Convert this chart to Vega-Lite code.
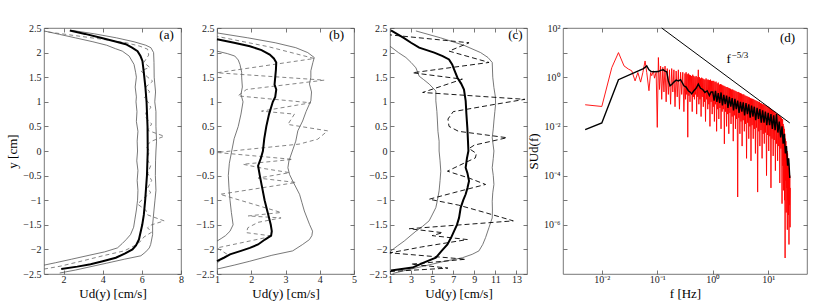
{
"$schema":"https://vega.github.io/schema/vega-lite/v6.json",
"background":"white",
"padding":{"left":6,"top":22,"right":5,"bottom":5},
"spacing":36,
"bounds":"flush",
"datasets":{
"a_env":[
{"s":"lo","y":2.44,"u":1.0},{"s":"lo","y":2.37,"u":1.8},{"s":"lo","y":2.30,"u":2.6},{"s":"lo","y":2.22,"u":3.5},{"s":"lo","y":2.15,"u":4.2},{"s":"lo","y":2.08,"u":4.65},{"s":"lo","y":2.03,"u":5.0},{"s":"lo","y":1.93,"u":5.35},{"s":"lo","y":1.76,"u":5.6},{"s":"lo","y":1.6,"u":5.68},{"s":"lo","y":1.5,"u":5.72},{"s":"lo","y":1.3,"u":5.66},{"s":"lo","y":1.1,"u":5.72},{"s":"lo","y":1.0,"u":5.7},{"s":"lo","y":0.8,"u":5.75},{"s":"lo","y":0.6,"u":5.72},{"s":"lo","y":0.4,"u":5.8},{"s":"lo","y":0.2,"u":5.76},{"s":"lo","y":0.0,"u":5.78},{"s":"lo","y":-0.2,"u":5.74},{"s":"lo","y":-0.4,"u":5.8},{"s":"lo","y":-0.6,"u":5.76},{"s":"lo","y":-0.8,"u":5.8},{"s":"lo","y":-1.0,"u":5.78},{"s":"lo","y":-1.2,"u":5.72},{"s":"lo","y":-1.4,"u":5.64},{"s":"lo","y":-1.55,"u":5.58},{"s":"lo","y":-1.7,"u":5.42},{"s":"lo","y":-1.8,"u":5.2},{"s":"lo","y":-1.88,"u":5.0},{"s":"lo","y":-1.97,"u":4.75},{"s":"lo","y":-2.05,"u":4.1},{"s":"lo","y":-2.12,"u":3.3},{"s":"lo","y":-2.2,"u":2.4},{"s":"lo","y":-2.27,"u":1.6},{"s":"lo","y":-2.32,"u":1.0},
{"s":"hi","y":2.45,"u":2.45},{"s":"hi","y":2.38,"u":3.6},{"s":"hi","y":2.30,"u":4.7},{"s":"hi","y":2.22,"u":5.6},{"s":"hi","y":2.15,"u":6.2},{"s":"hi","y":2.10,"u":6.46},{"s":"hi","y":2.0,"u":6.6},{"s":"hi","y":1.8,"u":6.62},{"s":"hi","y":1.5,"u":6.63},{"s":"hi","y":1.2,"u":6.7},{"s":"hi","y":1.0,"u":6.66},{"s":"hi","y":0.8,"u":6.72},{"s":"hi","y":0.5,"u":6.72},{"s":"hi","y":0.2,"u":6.75},{"s":"hi","y":0.0,"u":6.72},{"s":"hi","y":-0.2,"u":6.7},{"s":"hi","y":-0.5,"u":6.69},{"s":"hi","y":-0.8,"u":6.72},{"s":"hi","y":-1.0,"u":6.67},{"s":"hi","y":-1.2,"u":6.62},{"s":"hi","y":-1.5,"u":6.55},{"s":"hi","y":-1.7,"u":6.55},{"s":"hi","y":-1.9,"u":6.45},{"s":"hi","y":-1.97,"u":6.38},{"s":"hi","y":-2.05,"u":6.2},{"s":"hi","y":-2.13,"u":5.95},{"s":"hi","y":-2.2,"u":5.1},{"s":"hi","y":-2.28,"u":4.2},{"s":"hi","y":-2.35,"u":3.4},{"s":"hi","y":-2.42,"u":2.6},{"s":"hi","y":-2.48,"u":1.8}
],
"a_inst":[
{"y":2.43,"u":1.0},{"y":2.35,"u":2.5},{"y":2.27,"u":4.0},{"y":2.2,"u":5.2},{"y":2.13,"u":5.9},{"y":2.07,"u":6.29},{"y":1.95,"u":6.35},{"y":1.8,"u":6.1},{"y":1.7,"u":6.4},{"y":1.63,"u":5.95},{"y":1.5,"u":6.3},{"y":1.42,"u":6.55},{"y":1.3,"u":6.2},{"y":1.2,"u":6.4},{"y":1.08,"u":6.12},{"y":0.98,"u":6.35},{"y":0.88,"u":6.46},{"y":0.78,"u":6.2},{"y":0.68,"u":6.2},{"y":0.55,"u":6.5},{"y":0.42,"u":6.3},{"y":0.30,"u":7.14},{"y":0.2,"u":6.5},{"y":0.1,"u":6.2},{"y":0.0,"u":6.4},{"y":-0.15,"u":6.25},{"y":-0.3,"u":6.45},{"y":-0.45,"u":6.3},{"y":-0.6,"u":6.5},{"y":-0.75,"u":6.3},{"y":-0.85,"u":6.45},{"y":-0.95,"u":6.12},{"y":-1.08,"u":5.78},{"y":-1.2,"u":6.2},{"y":-1.3,"u":6.3},{"y":-1.42,"u":7.14},{"y":-1.5,"u":6.5},{"y":-1.56,"u":6.29},{"y":-1.65,"u":6.5},{"y":-1.75,"u":6.1},{"y":-1.83,"u":5.95},{"y":-1.93,"u":5.6},{"y":-2.03,"u":5.1},{"y":-2.13,"u":4.0},{"y":-2.23,"u":3.0},{"y":-2.34,"u":1.85},{"y":-2.4,"u":1.0}
],
"a_mean":[
{"y":2.45,"u":2.32},{"y":2.38,"u":3.1},{"y":2.30,"u":3.9},{"y":2.23,"u":4.6},{"y":2.17,"u":5.18},{"y":2.10,"u":5.5},{"y":2.03,"u":5.78},{"y":1.93,"u":5.93},{"y":1.83,"u":6.03},{"y":1.6,"u":6.1},{"y":1.3,"u":6.18},{"y":1.0,"u":6.24},{"y":0.5,"u":6.29},{"y":0.0,"u":6.3},{"y":-0.5,"u":6.26},{"y":-1.0,"u":6.17},{"y":-1.3,"u":6.1},{"y":-1.5,"u":6.02},{"y":-1.8,"u":5.85},{"y":-1.92,"u":5.7},{"y":-2.0,"u":5.52},{"y":-2.08,"u":5.15},{"y":-2.17,"u":4.67},{"y":-2.24,"u":4.0},{"y":-2.30,"u":3.38},{"y":-2.35,"u":2.7},{"y":-2.40,"u":1.88}
],
"b_env":[
{"s":"lo","y":2.03,"u":1.0},{"s":"lo","y":1.98,"u":1.3},{"s":"lo","y":1.93,"u":1.52},{"s":"lo","y":1.85,"u":1.62},{"s":"lo","y":1.76,"u":1.67},{"s":"lo","y":1.6,"u":1.72},{"s":"lo","y":1.5,"u":1.72},{"s":"lo","y":1.3,"u":1.74},{"s":"lo","y":1.15,"u":1.7},{"s":"lo","y":1.0,"u":1.76},{"s":"lo","y":0.75,"u":1.7},{"s":"lo","y":0.5,"u":1.62},{"s":"lo","y":0.25,"u":1.5},{"s":"lo","y":0.0,"u":1.43},{"s":"lo","y":-0.25,"u":1.36},{"s":"lo","y":-0.5,"u":1.33},{"s":"lo","y":-0.75,"u":1.35},{"s":"lo","y":-1.0,"u":1.38},{"s":"lo","y":-1.25,"u":1.42},{"s":"lo","y":-1.5,"u":1.47},{"s":"lo","y":-1.63,"u":1.38},{"s":"lo","y":-1.72,"u":1.25},{"s":"lo","y":-1.78,"u":1.12},{"s":"lo","y":-1.83,"u":1.0},
{"s":"hi","y":2.40,"u":1.0},{"s":"hi","y":2.3,"u":1.9},{"s":"hi","y":2.2,"u":2.7},{"s":"hi","y":2.1,"u":3.3},{"s":"hi","y":2.0,"u":3.65},{"s":"hi","y":1.90,"u":3.84},{"s":"hi","y":1.8,"u":3.8},{"s":"hi","y":1.63,"u":3.74},{"s":"hi","y":1.5,"u":3.74},{"s":"hi","y":1.36,"u":3.70},{"s":"hi","y":1.2,"u":3.76},{"s":"hi","y":1.02,"u":3.74},{"s":"hi","y":0.8,"u":3.6},{"s":"hi","y":0.61,"u":3.50},{"s":"hi","y":0.41,"u":3.36},{"s":"hi","y":0.2,"u":3.3},{"s":"hi","y":0.0,"u":3.2},{"s":"hi","y":-0.2,"u":3.1},{"s":"hi","y":-0.34,"u":3.07},{"s":"hi","y":-0.48,"u":3.12},{"s":"hi","y":-0.61,"u":3.21},{"s":"hi","y":-0.88,"u":3.41},{"s":"hi","y":-1.05,"u":3.48},{"s":"hi","y":-1.22,"u":3.55},{"s":"hi","y":-1.49,"u":3.70},{"s":"hi","y":-1.63,"u":3.79},{"s":"hi","y":-1.72,"u":3.77},{"s":"hi","y":-1.80,"u":3.70},{"s":"hi","y":-1.9,"u":3.5},{"s":"hi","y":-2.03,"u":3.21},{"s":"hi","y":-2.12,"u":2.6},{"s":"hi","y":-2.24,"u":1.96},{"s":"hi","y":-2.32,"u":1.5},{"s":"hi","y":-2.40,"u":1.0}
],
"b_inst":[
{"y":2.33,"u":1.0},{"y":2.12,"u":2.5},{"y":1.88,"u":3.84},{"y":1.59,"u":1.0},{"y":1.44,"u":4.13},{"y":1.25,"u":1.86},{"y":1.12,"u":1.61},{"y":0.98,"u":3.74},{"y":0.81,"u":2.30},{"y":0.75,"u":3.26},{"y":0.54,"u":3.07},{"y":0.41,"u":4.23},{"y":0.24,"u":3.94},{"y":0.14,"u":3.4},{"y":-0.03,"u":1.0},{"y":-0.17,"u":3.21},{"y":-0.27,"u":1.76},{"y":-0.36,"u":2.4},{"y":-0.44,"u":3.12},{"y":-0.55,"u":2.2},{"y":-0.64,"u":3.31},{"y":-0.88,"u":1.09},{"y":-1.12,"u":2.25},{"y":-1.25,"u":2.87},{"y":-1.32,"u":1.91},{"y":-1.36,"u":2.87},{"y":-1.45,"u":2.2},{"y":-1.56,"u":1.9},{"y":-1.66,"u":1.86},{"y":-1.73,"u":2.63},{"y":-1.97,"u":1.0},{"y":-2.1,"u":1.3},{"y":-2.28,"u":1.0}
],
"b_mean":[
{"y":2.27,"u":1.0},{"y":2.2,"u":1.5},{"y":2.13,"u":1.96},{"y":2.05,"u":2.3},{"y":1.96,"u":2.54},{"y":1.88,"u":2.66},{"y":1.80,"u":2.73},{"y":1.65,"u":2.72},{"y":1.5,"u":2.70},{"y":1.35,"u":2.68},{"y":1.25,"u":2.73},{"y":1.1,"u":2.70},{"y":1.0,"u":2.63},{"y":0.75,"u":2.52},{"y":0.5,"u":2.44},{"y":0.25,"u":2.38},{"y":0.0,"u":2.34},{"y":-0.15,"u":2.28},{"y":-0.3,"u":2.2},{"y":-0.5,"u":2.25},{"y":-0.75,"u":2.32},{"y":-1.0,"u":2.39},{"y":-1.25,"u":2.48},{"y":-1.5,"u":2.57},{"y":-1.63,"u":2.6},{"y":-1.72,"u":2.58},{"y":-1.8,"u":2.4},{"y":-1.9,"u":2.2},{"y":-1.97,"u":1.96},{"y":-2.03,"u":1.7},{"y":-2.1,"u":1.38},{"y":-2.17,"u":1.2},{"y":-2.24,"u":1.0}
],
"c_env":[
{"s":"lo","y":2.13,"u":1.0},{"s":"lo","y":2.0,"u":1.8},{"s":"lo","y":1.90,"u":2.51},{"s":"lo","y":1.80,"u":3.0},{"s":"lo","y":1.69,"u":3.46},{"s":"lo","y":1.52,"u":3.77},{"s":"lo","y":1.45,"u":4.2},{"s":"lo","y":1.36,"u":4.72},{"s":"lo","y":1.22,"u":5.35},{"s":"lo","y":1.02,"u":5.35},{"s":"lo","y":0.8,"u":5.45},{"s":"lo","y":0.61,"u":5.5},{"s":"lo","y":0.4,"u":5.55},{"s":"lo","y":0.20,"u":5.66},{"s":"lo","y":0.0,"u":5.66},{"s":"lo","y":-0.2,"u":5.75},{"s":"lo","y":-0.41,"u":5.82},{"s":"lo","y":-0.6,"u":5.75},{"s":"lo","y":-0.81,"u":5.66},{"s":"lo","y":-1.0,"u":5.5},{"s":"lo","y":-1.15,"u":5.35},{"s":"lo","y":-1.3,"u":5.0},{"s":"lo","y":-1.42,"u":4.71},{"s":"lo","y":-1.53,"u":4.1},{"s":"lo","y":-1.63,"u":3.46},{"s":"lo","y":-1.73,"u":2.9},{"s":"lo","y":-1.83,"u":2.35},{"s":"lo","y":-1.93,"u":1.7},{"s":"lo","y":-2.03,"u":1.09},{"s":"lo","y":-2.08,"u":1.0},
{"s":"hi","y":2.44,"u":3.46},{"s":"hi","y":2.3,"u":5.8},{"s":"hi","y":2.15,"u":8.0},{"s":"hi","y":2.0,"u":9.6},{"s":"hi","y":1.90,"u":10.3},{"s":"hi","y":1.80,"u":10.7},{"s":"hi","y":1.5,"u":10.75},{"s":"hi","y":1.29,"u":10.86},{"s":"hi","y":1.1,"u":11.0},{"s":"hi","y":0.95,"u":11.02},{"s":"hi","y":0.8,"u":10.95},{"s":"hi","y":0.61,"u":10.86},{"s":"hi","y":0.45,"u":10.8},{"s":"hi","y":0.27,"u":10.7},{"s":"hi","y":0.0,"u":10.86},{"s":"hi","y":-0.15,"u":10.8},{"s":"hi","y":-0.34,"u":10.7},{"s":"hi","y":-0.5,"u":10.8},{"s":"hi","y":-0.68,"u":10.86},{"s":"hi","y":-0.85,"u":10.75},{"s":"hi","y":-1.02,"u":10.7},{"s":"hi","y":-1.2,"u":10.72},{"s":"hi","y":-1.36,"u":10.7},{"s":"hi","y":-1.55,"u":10.4},{"s":"hi","y":-1.76,"u":10.07},{"s":"hi","y":-1.9,"u":9.8},{"s":"hi","y":-2.03,"u":9.44},{"s":"hi","y":-2.10,"u":8.8},{"s":"hi","y":-2.17,"u":7.87},{"s":"hi","y":-2.25,"u":6.0},{"s":"hi","y":-2.35,"u":4.0},{"s":"hi","y":-2.44,"u":2.2},{"s":"hi","y":-2.49,"u":1.25}
],
"c_inst":[
{"y":2.36,"u":1.0},{"y":2.20,"u":8.5},{"y":2.03,"u":6.6},{"y":1.80,"u":10.4},{"y":1.59,"u":3.14},{"y":1.46,"u":7.87},{"y":1.19,"u":4.1},{"y":1.05,"u":13.8},{"y":0.95,"u":11.0},{"y":0.8,"u":7.0},{"y":0.65,"u":6.5},{"y":0.5,"u":6.6},{"y":0.4,"u":7.5},{"y":0.27,"u":12.1},{"y":0.12,"u":9.0},{"y":0.05,"u":8.5},{"y":-0.05,"u":9.2},{"y":-0.14,"u":9.1},{"y":-0.25,"u":8.0},{"y":-0.41,"u":6.45},{"y":-0.55,"u":8.5},{"y":-0.68,"u":10.07},{"y":-0.85,"u":7.0},{"y":-0.98,"u":4.72},{"y":-1.1,"u":7.5},{"y":-1.25,"u":10.0},{"y":-1.42,"u":12.7},{"y":-1.58,"u":2.82},{"y":-1.66,"u":6.0},{"y":-1.72,"u":5.0},{"y":-1.80,"u":8.34},{"y":-1.95,"u":4.0},{"y":-2.07,"u":1.0},{"y":-2.20,"u":8.18},{"y":-2.30,"u":3.0},{"y":-2.38,"u":6.5},{"y":-2.45,"u":1.0}
],
"c_mean":[
{"y":2.45,"u":1.09},{"y":2.3,"u":2.3},{"y":2.2,"u":3.0},{"y":2.10,"u":3.77},{"y":2.0,"u":5.2},{"y":1.93,"u":6.0},{"y":1.86,"u":6.6},{"y":1.76,"u":6.9},{"y":1.66,"u":7.08},{"y":1.49,"u":7.4},{"y":1.37,"u":7.75},{"y":1.25,"u":8.02},{"y":1.02,"u":8.18},{"y":0.75,"u":8.25},{"y":0.47,"u":8.34},{"y":0.2,"u":8.4},{"y":0.0,"u":8.44},{"y":-0.15,"u":8.3},{"y":-0.34,"u":8.18},{"y":-0.45,"u":8.35},{"y":-0.61,"u":8.5},{"y":-0.75,"u":8.35},{"y":-0.88,"u":8.18},{"y":-1.0,"u":7.95},{"y":-1.15,"u":7.71},{"y":-1.36,"u":7.55},{"y":-1.5,"u":7.35},{"y":-1.63,"u":7.08},{"y":-1.76,"u":6.8},{"y":-1.90,"u":6.45},{"y":-2.03,"u":5.9},{"y":-2.17,"u":5.35},{"y":-2.27,"u":4.2},{"y":-2.37,"u":3.14},{"y":-2.43,"u":1.09}
],
"d_red":[
{"lf":-2.30,"lS":-1.12},{"lf":-2.00,"lS":-1.19},{"lf":-1.82,"lS":0.39},{"lf":-1.70,"lS":1.00},{"lf":-1.60,"lS":0.46},{"lf":-1.52,"lS":0.33},{"lf":-1.46,"lS":0.26},{"lf":-1.40,"lS":-0.15},{"lf":-1.35,"lS":0.19},{"lf":-1.30,"lS":-0.20},{"lf":-1.26,"lS":0.19},{"lf":-1.22,"lS":0.66},{"lf":-1.19,"lS":0.19},{"lf":-1.15,"lS":-0.55},{"lf":-1.12,"lS":0.19},{"lf":-1.10,"lS":0.06},{"lf":-1.07,"lS":0.26},{"lf":-1.05,"lS":-0.04},{"lf":-1.02,"lS":0.20},
{"lf":-1.00,"lS":-2.04},{"lf":-0.98,"lS":0.80},{"lf":-0.96,"lS":-0.5},{"lf":-0.94,"lS":0.45},{"lf":-0.92,"lS":-0.9},{"lf":-0.90,"lS":0.4},{"lf":-0.88,"lS":-0.6},{"lf":-0.86,"lS":0.45},{"lf":-0.84,"lS":-1.0},{"lf":-0.82,"lS":0.35},{"lf":-0.80,"lS":-0.7},{"lf":-0.78,"lS":0.3},{"lf":-0.76,"lS":-1.1},{"lf":-0.74,"lS":0.35},{"lf":-0.72,"lS":-0.6},{"lf":-0.70,"lS":0.3},{"lf":-0.68,"lS":-1.2},{"lf":-0.66,"lS":0.25},{"lf":-0.64,"lS":-0.8},{"lf":-0.62,"lS":0.3},{"lf":-0.60,"lS":-1.3},{"lf":-0.58,"lS":0.2},{"lf":-0.56,"lS":-0.7},{"lf":-0.54,"lS":0.2},{"lf":-0.52,"lS":-1.4},
{"lf":-0.50,"lS":0.15},{"lf":-0.49,"lS":-0.9},{"lf":-0.48,"lS":0.2},{"lf":-0.47,"lS":-0.7},{"lf":-0.46,"lS":0.12},{"lf":-0.45,"lS":-2.44},{"lf":-0.44,"lS":0.15},{"lf":-0.43,"lS":-0.75},{"lf":-0.42,"lS":0.1},{"lf":-0.41,"lS":-1.0},{"lf":-0.40,"lS":0.08},{"lf":-0.39,"lS":-0.6},{"lf":-0.38,"lS":0.05},{"lf":-0.37,"lS":-1.4},{"lf":-0.36,"lS":0.1},{"lf":-0.35,"lS":-0.8},{"lf":-0.34,"lS":0.05},{"lf":-0.33,"lS":-0.9},{"lf":-0.32,"lS":0.0},{"lf":-0.31,"lS":-0.7},{"lf":-0.30,"lS":0.05},{"lf":-0.29,"lS":-1.5},{"lf":-0.28,"lS":0.0},{"lf":-0.27,"lS":-0.8},{"lf":-0.26,"lS":0.3},{"lf":-0.25,"lS":-1.1},{"lf":-0.24,"lS":0.0},{"lf":-0.23,"lS":-0.9},{"lf":-0.22,"lS":-0.05},{"lf":-0.21,"lS":-1.6},{"lf":-0.20,"lS":-0.02},{"lf":-0.19,"lS":-0.8},{"lf":-0.18,"lS":-0.05},{"lf":-0.17,"lS":-1.2},{"lf":-0.16,"lS":-0.08},{"lf":-0.15,"lS":-1.0},{"lf":-0.14,"lS":-0.1},{"lf":-0.13,"lS":-1.8},{"lf":-0.12,"lS":-0.05},{"lf":-0.11,"lS":-0.9},{"lf":-0.10,"lS":-0.1},{"lf":-0.09,"lS":-1.3},{"lf":-0.08,"lS":-0.1},{"lf":-0.07,"lS":-1.1},{"lf":-0.06,"lS":-0.12},{"lf":-0.05,"lS":-2.0},{"lf":-0.04,"lS":-0.1},{"lf":-0.03,"lS":-1.0},{"lf":-0.02,"lS":-0.15},{"lf":-0.01,"lS":-1.5},
{"lf":0.00,"lS":-0.15},{"lf":0.01,"lS":-1.2},{"lf":0.02,"lS":-0.15},{"lf":0.03,"lS":-1.8},{"lf":0.04,"lS":-0.2},{"lf":0.05,"lS":-1.1},{"lf":0.06,"lS":-0.18},{"lf":0.07,"lS":-2.2},{"lf":0.08,"lS":-0.25},{"lf":0.09,"lS":-1.3},{"lf":0.10,"lS":-0.22},{"lf":0.11,"lS":-1.7},{"lf":0.12,"lS":-0.3},{"lf":0.13,"lS":-1.25},{"lf":0.14,"lS":-0.28},{"lf":0.15,"lS":-2.1},{"lf":0.16,"lS":-0.3},{"lf":0.17,"lS":-1.4},{"lf":0.18,"lS":-0.33},{"lf":0.19,"lS":-1.3},{"lf":0.20,"lS":-0.35},{"lf":0.21,"lS":-2.71},{"lf":0.22,"lS":-0.37},{"lf":0.23,"lS":-1.4},{"lf":0.24,"lS":-0.4},{"lf":0.25,"lS":-2.0},{"lf":0.26,"lS":-0.4},{"lf":0.27,"lS":-1.5},{"lf":0.28,"lS":-0.43},{"lf":0.29,"lS":-2.3},{"lf":0.30,"lS":-0.45},{"lf":0.31,"lS":-1.45},{"lf":0.32,"lS":-0.47},{"lf":0.33,"lS":-1.9},{"lf":0.34,"lS":-0.5},{"lf":0.35,"lS":-1.6},{"lf":0.36,"lS":-0.5},{"lf":0.37,"lS":-2.6},{"lf":0.38,"lS":-0.53},{"lf":0.39,"lS":-1.55},{"lf":0.40,"lS":-0.55},{"lf":0.41,"lS":-2.1},{"lf":0.42,"lS":-0.57},{"lf":0.43,"lS":-1.7},{"lf":0.44,"lS":-0.6},{"lf":0.45,"lS":-4.87},{"lf":0.46,"lS":-0.6},{"lf":0.47,"lS":-1.65},{"lf":0.48,"lS":-0.63},{"lf":0.49,"lS":-2.3},
{"lf":0.50,"lS":-0.65},{"lf":0.51,"lS":-1.8},{"lf":0.52,"lS":-0.67},{"lf":0.53,"lS":-2.8},{"lf":0.54,"lS":-0.7},{"lf":0.55,"lS":-1.75},{"lf":0.56,"lS":-0.7},{"lf":0.57,"lS":-2.2},{"lf":0.58,"lS":-0.74},{"lf":0.59,"lS":-1.9},{"lf":0.60,"lS":-0.76},{"lf":0.61,"lS":-3.3},{"lf":0.62,"lS":-0.78},{"lf":0.63,"lS":-1.85},{"lf":0.64,"lS":-0.8},{"lf":0.65,"lS":-2.5},{"lf":0.66,"lS":-0.82},{"lf":0.67,"lS":-2.0},{"lf":0.68,"lS":-0.85},{"lf":0.69,"lS":-3.4},{"lf":0.70,"lS":-0.87},{"lf":0.71,"lS":-1.95},{"lf":0.72,"lS":-0.88},{"lf":0.73,"lS":-2.5},{"lf":0.74,"lS":-0.9},{"lf":0.75,"lS":-2.1},{"lf":0.76,"lS":-0.93},{"lf":0.77,"lS":-3.1},{"lf":0.78,"lS":-0.95},{"lf":0.79,"lS":-2.05},{"lf":0.80,"lS":-0.97},{"lf":0.81,"lS":-4.67},{"lf":0.82,"lS":-1.0},{"lf":0.83,"lS":-2.2},{"lf":0.84,"lS":-1.0},{"lf":0.85,"lS":-2.8},{"lf":0.86,"lS":-1.05},{"lf":0.87,"lS":-2.15},{"lf":0.88,"lS":-1.07},{"lf":0.89,"lS":-3.3},{"lf":0.90,"lS":-1.1},{"lf":0.91,"lS":-2.3},{"lf":0.92,"lS":-1.1},{"lf":0.93,"lS":-2.7},{"lf":0.94,"lS":-1.13},{"lf":0.95,"lS":-2.25},{"lf":0.96,"lS":-1.15},{"lf":0.97,"lS":-4.0},{"lf":0.98,"lS":-1.18},{"lf":0.99,"lS":-2.35},
{"lf":1.00,"lS":-1.2},{"lf":1.01,"lS":-3.0},{"lf":1.02,"lS":-1.23},{"lf":1.03,"lS":-2.4},{"lf":1.04,"lS":-1.27},{"lf":1.05,"lS":-4.5},{"lf":1.06,"lS":-1.3},{"lf":1.07,"lS":-2.5},{"lf":1.08,"lS":-1.34},{"lf":1.09,"lS":-3.2},{"lf":1.10,"lS":-1.37},{"lf":1.11,"lS":-2.55},{"lf":1.12,"lS":-1.4},{"lf":1.13,"lS":-3.8},{"lf":1.14,"lS":-1.45},{"lf":1.15,"lS":-2.7},{"lf":1.16,"lS":-1.48},{"lf":1.17,"lS":-3.4},{"lf":1.18,"lS":-1.52},{"lf":1.19,"lS":-2.8},{"lf":1.20,"lS":-1.55},{"lf":1.21,"lS":-4.3},{"lf":1.22,"lS":-1.6},{"lf":1.23,"lS":-2.9},{"lf":1.24,"lS":-1.65},{"lf":1.25,"lS":-5.14},{"lf":1.26,"lS":-1.7},
{"lf":1.265,"lS":-3.6},{"lf":1.270,"lS":-1.9},{"lf":1.275,"lS":-4.6},{"lf":1.280,"lS":-2.0},{"lf":1.285,"lS":-3.4},{"lf":1.290,"lS":-2.1},{"lf":1.295,"lS":-5.0},{"lf":1.300,"lS":-2.3},{"lf":1.305,"lS":-7.35},{"lf":1.310,"lS":-2.5},{"lf":1.315,"lS":-4.2},{"lf":1.320,"lS":-2.6},{"lf":1.325,"lS":-5.5},{"lf":1.330,"lS":-2.8},{"lf":1.335,"lS":-4.5},{"lf":1.340,"lS":-3.0},{"lf":1.345,"lS":-6.2},{"lf":1.350,"lS":-3.1},{"lf":1.355,"lS":-5.0},{"lf":1.360,"lS":-3.3},{"lf":1.365,"lS":-5.6},{"lf":1.370,"lS":-3.5},{"lf":1.375,"lS":-6.8},{"lf":1.380,"lS":-3.7},{"lf":1.385,"lS":-5.2},{"lf":1.390,"lS":-4.0},{"lf":1.395,"lS":-6.1},{"lf":1.400,"lS":-4.5}
],
"d_black":[
{"lf":-2.30,"lS":-2.13},{"lf":-2.00,"lS":-1.86},{"lf":-1.70,"lS":-0.10},{"lf":-1.25,"lS":0.35},{"lf":-1.22,"lS":0.40},{"lf":-1.19,"lS":0.46},{"lf":-1.15,"lS":0.30},{"lf":-1.11,"lS":0.23},{"lf":-1.05,"lS":0.22},{"lf":-0.98,"lS":0.23},{"lf":-0.94,"lS":0.28},{"lf":-0.89,"lS":0.30},{"lf":-0.86,"lS":0.25},{"lf":-0.83,"lS":0.22},{"lf":-0.80,"lS":-0.15},{"lf":-0.77,"lS":-0.35},{"lf":-0.74,"lS":-0.30},{"lf":-0.70,"lS":-0.20},{"lf":-0.66,"lS":-0.12},{"lf":-0.62,"lS":-0.15},{"lf":-0.58,"lS":-0.10},{"lf":-0.55,"lS":-0.22},{"lf":-0.52,"lS":-0.35},{"lf":-0.48,"lS":-0.40},{"lf":-0.44,"lS":-0.55},{"lf":-0.40,"lS":-0.62},{"lf":-0.38,"lS":-0.68},{"lf":-0.34,"lS":-0.55},{"lf":-0.30,"lS":-0.45},{"lf":-0.26,"lS":-0.28},{"lf":-0.22,"lS":-0.45},{"lf":-0.18,"lS":-0.5},{"lf":-0.14,"lS":-0.62},{"lf":-0.10,"lS":-0.55},{"lf":-0.06,"lS":-0.75},{"lf":-0.03,"lS":-0.6},{"lf":0.000,"lS":-0.60},{"lf":0.025,"lS":-0.95},{"lf":0.050,"lS":-0.55},{"lf":0.075,"lS":-1.00},{"lf":0.100,"lS":-0.65},{"lf":0.125,"lS":-1.05},{"lf":0.150,"lS":-0.62},{"lf":0.175,"lS":-1.15},{"lf":0.200,"lS":-0.72},{"lf":0.225,"lS":-1.10},{"lf":0.250,"lS":-0.75},{"lf":0.275,"lS":-1.25},{"lf":0.300,"lS":-0.80},{"lf":0.325,"lS":-1.20},{"lf":0.350,"lS":-0.85},{"lf":0.375,"lS":-1.35},{"lf":0.400,"lS":-0.88},{"lf":0.425,"lS":-1.30},{"lf":0.450,"lS":-0.95},{"lf":0.475,"lS":-1.45},{"lf":0.500,"lS":-1.00},{"lf":0.525,"lS":-1.40},{"lf":0.550,"lS":-1.02},{"lf":0.575,"lS":-1.55},{"lf":0.600,"lS":-1.05},{"lf":0.625,"lS":-1.50},{"lf":0.650,"lS":-1.10},{"lf":0.675,"lS":-1.65},{"lf":0.700,"lS":-1.15},{"lf":0.725,"lS":-1.60},{"lf":0.750,"lS":-1.20},{"lf":0.775,"lS":-1.75},{"lf":0.800,"lS":-1.25},{"lf":0.825,"lS":-1.70},{"lf":0.850,"lS":-1.30},{"lf":0.875,"lS":-1.85},{"lf":0.900,"lS":-1.35},{"lf":0.925,"lS":-1.85},{"lf":0.950,"lS":-1.40},{"lf":0.975,"lS":-1.95},{"lf":1.000,"lS":-1.45},{"lf":1.025,"lS":-1.95},{"lf":1.050,"lS":-1.50},{"lf":1.075,"lS":-2.10},{"lf":1.100,"lS":-1.55},{"lf":1.125,"lS":-2.15},{"lf":1.150,"lS":-1.50},{"lf":1.175,"lS":-2.25},{"lf":1.200,"lS":-1.80},{"lf":1.225,"lS":-2.45},{"lf":1.250,"lS":-2.00},{"lf":1.270,"lS":-2.70},{"lf":1.290,"lS":-2.30},{"lf":1.310,"lS":-3.10},{"lf":1.330,"lS":-2.80},{"lf":1.350,"lS":-3.60},{"lf":1.370,"lS":-3.30},{"lf":1.390,"lS":-4.10}
],
"d_pow":[{"lf":-0.92,"lS":2.0},{"lf":1.39,"lS":-1.86}]
},
"hconcat":[
{
"width":137,"height":246,
"resolve":{"axis":{"x":"independent","y":"independent"}},
"layer":[
{"data":{"name":"a_env"},"mark":{"type":"line","color":"#555","strokeWidth":0.8},
"encoding":{
"x":{"field":"u","type":"quantitative","scale":{"domain":[1,8],"nice":false,"zero":false},"axis":{"values":[2,4,6,8],"title":"Ud(y) [cm/s]"}},
"y":{"field":"y","type":"quantitative","scale":{"domain":[-2.5,2.5],"nice":false,"zero":false},"axis":{"values":[-2.5,-2,-1.5,-1,-0.5,0,0.5,1,1.5,2,2.5],"format":".2~f","title":"y [cm]"}},
"detail":{"field":"s"},
"order":{"field":"y","type":"quantitative"}}},
{"data":{"name":"a_inst"},"mark":{"type":"line","color":"#666","strokeWidth":0.8,"strokeDash":[4,3]},
"encoding":{
"x":{"field":"u","type":"quantitative","scale":{"domain":[1,8],"nice":false,"zero":false},"axis":null},
"y":{"field":"y","type":"quantitative","scale":{"domain":[-2.5,2.5],"nice":false,"zero":false},"axis":null},
"order":{"field":"y","type":"quantitative"}}},
{"data":{"name":"a_mean"},"mark":{"type":"line","color":"#000","strokeWidth":2},
"encoding":{
"x":{"field":"u","type":"quantitative","scale":{"domain":[1,8],"nice":false,"zero":false},"axis":null},
"y":{"field":"y","type":"quantitative","scale":{"domain":[-2.5,2.5],"nice":false,"zero":false},"axis":null},
"order":{"field":"y","type":"quantitative"}}},
{"data":{"values":[{}]},"mark":{"type":"text","text":"(a)","fontSize":13,"align":"center","baseline":"alphabetic","font":"Liberation Serif"},
"encoding":{
"x":{"datum":7.26,"type":"quantitative","scale":{"domain":[1,8],"nice":false,"zero":false},"axis":{"orient":"top","labels":false,"title":null,"values":[2,4,6,8]}},
"y":{"datum":2.28,"type":"quantitative","scale":{"domain":[-2.5,2.5],"nice":false,"zero":false},"axis":{"orient":"right","labels":false,"title":null,"values":[-2.5,-2,-1.5,-1,-0.5,0,0.5,1,1.5,2,2.5]}}}}
]
},
{
"width":137,"height":246,
"resolve":{"axis":{"x":"independent","y":"independent"}},
"layer":[
{"data":{"name":"b_env"},"mark":{"type":"line","color":"#555","strokeWidth":0.8},
"encoding":{
"x":{"field":"u","type":"quantitative","scale":{"domain":[1,5],"nice":false,"zero":false},"axis":{"values":[1,2,3,4,5],"title":"Ud(y) [cm/s]"}},
"y":{"field":"y","type":"quantitative","scale":{"domain":[-2.5,2.5],"nice":false,"zero":false},"axis":{"values":[-2.5,-2,-1.5,-1,-0.5,0,0.5,1,1.5,2,2.5],"format":".2~f","title":null}},
"detail":{"field":"s"},
"order":{"field":"y","type":"quantitative"}}},
{"data":{"name":"b_inst"},"mark":{"type":"line","color":"#666","strokeWidth":0.8,"strokeDash":[4,3]},
"encoding":{
"x":{"field":"u","type":"quantitative","scale":{"domain":[1,5],"nice":false,"zero":false},"axis":null},
"y":{"field":"y","type":"quantitative","scale":{"domain":[-2.5,2.5],"nice":false,"zero":false},"axis":null},
"order":{"field":"y","type":"quantitative"}}},
{"data":{"name":"b_mean"},"mark":{"type":"line","color":"#000","strokeWidth":2},
"encoding":{
"x":{"field":"u","type":"quantitative","scale":{"domain":[1,5],"nice":false,"zero":false},"axis":null},
"y":{"field":"y","type":"quantitative","scale":{"domain":[-2.5,2.5],"nice":false,"zero":false},"axis":null},
"order":{"field":"y","type":"quantitative"}}},
{"data":{"values":[{}]},"mark":{"type":"text","text":"(b)","fontSize":13,"align":"center","baseline":"alphabetic","font":"Liberation Serif"},
"encoding":{
"x":{"datum":4.49,"type":"quantitative","scale":{"domain":[1,5],"nice":false,"zero":false},"axis":{"orient":"top","labels":false,"title":null,"values":[1,2,3,4,5]}},
"y":{"datum":2.28,"type":"quantitative","scale":{"domain":[-2.5,2.5],"nice":false,"zero":false},"axis":{"orient":"right","labels":false,"title":null,"values":[-2.5,-2,-1.5,-1,-0.5,0,0.5,1,1.5,2,2.5]}}}}
]
},
{
"width":137,"height":246,
"resolve":{"axis":{"x":"independent","y":"independent"}},
"layer":[
{"data":{"name":"c_env"},"mark":{"type":"line","color":"#555","strokeWidth":0.8},
"encoding":{
"x":{"field":"u","type":"quantitative","scale":{"domain":[1,14],"nice":false,"zero":false},"axis":{"values":[1,3,5,7,9,11,13],"title":"Ud(y) [cm/s]"}},
"y":{"field":"y","type":"quantitative","scale":{"domain":[-2.5,2.5],"nice":false,"zero":false},"axis":{"values":[-2.5,-2,-1.5,-1,-0.5,0,0.5,1,1.5,2,2.5],"format":".2~f","title":null}},
"detail":{"field":"s"},
"order":{"field":"y","type":"quantitative"}}},
{"data":{"name":"c_inst"},"mark":{"type":"line","color":"#000","strokeWidth":0.9,"strokeDash":[5,3]},
"encoding":{
"x":{"field":"u","type":"quantitative","scale":{"domain":[1,14],"nice":false,"zero":false},"axis":null},
"y":{"field":"y","type":"quantitative","scale":{"domain":[-2.5,2.5],"nice":false,"zero":false},"axis":null},
"order":{"field":"y","type":"quantitative"}}},
{"data":{"name":"c_mean"},"mark":{"type":"line","color":"#000","strokeWidth":2},
"encoding":{
"x":{"field":"u","type":"quantitative","scale":{"domain":[1,14],"nice":false,"zero":false},"axis":null},
"y":{"field":"y","type":"quantitative","scale":{"domain":[-2.5,2.5],"nice":false,"zero":false},"axis":null},
"order":{"field":"y","type":"quantitative"}}},
{"data":{"values":[{}]},"mark":{"type":"text","text":"(c)","fontSize":13,"align":"center","baseline":"alphabetic","font":"Liberation Serif"},
"encoding":{
"x":{"datum":12.9,"type":"quantitative","scale":{"domain":[1,14],"nice":false,"zero":false},"axis":{"orient":"top","labels":false,"title":null,"values":[1,3,5,7,9,11,13]}},
"y":{"datum":2.28,"type":"quantitative","scale":{"domain":[-2.5,2.5],"nice":false,"zero":false},"axis":{"orient":"right","labels":false,"title":null,"values":[-2.5,-2,-1.5,-1,-0.5,0,0.5,1,1.5,2,2.5]}}}}
]
},
{
"width":244,"height":246,
"resolve":{"axis":{"x":"independent","y":"independent"}},
"layer":[
{"data":{"name":"d_red"},"mark":{"type":"line","color":"#ff0000","strokeWidth":0.9},
"encoding":{
"x":{"field":"lf","type":"quantitative","scale":{"domain":[-2.7,1.7],"nice":false,"zero":false},"axis":{"values":[-2,-1,0,1],"title":"f [Hz]","labelExpr":"datum.value == 0 ? '10⁰' : datum.value == 1 ? '10¹' : datum.value == -1 ? '10⁻¹' : '10⁻²'"}},
"y":{"field":"lS","type":"quantitative","scale":{"domain":[-8,2],"nice":false,"zero":false},"axis":{"values":[-7,-6,-5,-4,-3,-2,-1,0,1,2],"title":"SUd(f)","labelExpr":"datum.value == 2 ? '10²' : datum.value == 0 ? '10⁰' : datum.value == -2 ? '10⁻²' : datum.value == -4 ? '10⁻⁴' : datum.value == -6 ? '10⁻⁶' : ''"}}}},
{"data":{"name":"d_black"},"mark":{"type":"line","color":"#000","strokeWidth":1.4},
"encoding":{
"x":{"field":"lf","type":"quantitative","scale":{"domain":[-2.7,1.7],"nice":false,"zero":false},"axis":null},
"y":{"field":"lS","type":"quantitative","scale":{"domain":[-8,2],"nice":false,"zero":false},"axis":null}}},
{"data":{"name":"d_pow"},"mark":{"type":"line","color":"#000","strokeWidth":1},
"encoding":{
"x":{"field":"lf","type":"quantitative","scale":{"domain":[-2.7,1.7],"nice":false,"zero":false},"axis":null},
"y":{"field":"lS","type":"quantitative","scale":{"domain":[-8,2],"nice":false,"zero":false},"axis":null}}},
{"data":{"values":[{}]},"mark":{"type":"text","text":"f","fontSize":13,"align":"left","baseline":"alphabetic","font":"Liberation Serif"},
"encoding":{
"x":{"datum":0.25,"type":"quantitative","scale":{"domain":[-2.7,1.7],"nice":false,"zero":false},"axis":null},
"y":{"datum":0.58,"type":"quantitative","scale":{"domain":[-8,2],"nice":false,"zero":false},"axis":null}}},
{"data":{"values":[{}]},"mark":{"type":"text","text":"−5/3","fontSize":9,"align":"left","baseline":"alphabetic","font":"Liberation Serif"},
"encoding":{
"x":{"datum":0.34,"type":"quantitative","scale":{"domain":[-2.7,1.7],"nice":false,"zero":false},"axis":null},
"y":{"datum":0.78,"type":"quantitative","scale":{"domain":[-8,2],"nice":false,"zero":false},"axis":null}}},
{"data":{"values":[{}]},"mark":{"type":"text","text":"(d)","fontSize":13,"align":"center","baseline":"alphabetic","font":"Liberation Serif"},
"encoding":{
"x":{"datum":1.35,"type":"quantitative","scale":{"domain":[-2.7,1.7],"nice":false,"zero":false},"axis":{"orient":"top","labels":false,"title":null,"values":[-2,-1,0,1]}},
"y":{"datum":1.42,"type":"quantitative","scale":{"domain":[-8,2],"nice":false,"zero":false},"axis":{"orient":"right","labels":false,"title":null,"values":[-7,-6,-5,-4,-3,-2,-1,0,1,2]}}}}
]
}
],
"config":{
"font":"Liberation Serif",
"view":{"stroke":"#555","strokeWidth":0.8},
"axis":{"grid":false,"domain":false,"tickSize":-4,"tickColor":"#555","tickWidth":0.8,"labelFont":"Liberation Serif","labelFontSize":10,"labelColor":"#222","titleFont":"Liberation Serif","titleFontSize":13,"titleFontWeight":"normal","titleColor":"#000","titlePadding":3,"labelFlush":false,"labelOverlap":false},
"axisX":{"labelPadding":4},
"axisY":{"labelPadding":7}
}
}
